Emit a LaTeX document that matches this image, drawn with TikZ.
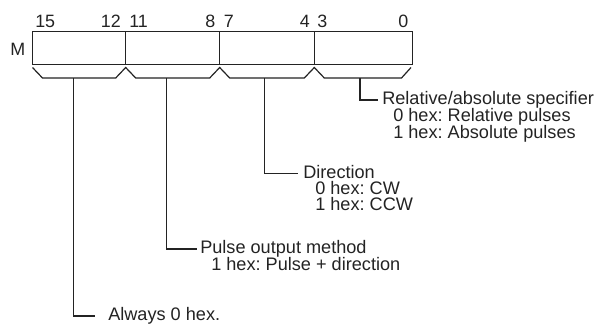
\documentclass[tikz,border=0pt]{standalone}
\usepackage{fontspec}
\setmainfont{Liberation Sans}
\frenchspacing
\definecolor{ink}{RGB}{35,35,35}
\begin{document}
\begin{tikzpicture}[x=0.75pt,y=-0.75pt,
  ln/.style={draw=ink,line width=0.9pt},
  lbl/.style={inner sep=0pt,text=ink,font=\fontsize{13.6}{15}\selectfont,text height=0.716em,text depth=0pt},
  num/.style={inner sep=0pt,text=ink,font=\fontsize{13.4}{15}\selectfont}]
\useasboundingbox (0,0) rectangle (600,326);
% register
\node[ln,minimum width=379.5*0.75pt,minimum height=33*0.75pt,anchor=north west,inner sep=0pt] (reg) at (32,31) {};
\coordinate (d1t) at (125.7,31); \coordinate (d1b) at (125.7,64);
\coordinate (d2t) at (219.7,31); \coordinate (d2b) at (219.7,64);
\coordinate (d3t) at (314.3,31); \coordinate (d3b) at (314.3,64);
\draw[ln] (d1t) -- (d1b); \draw[ln] (d2t) -- (d2b); \draw[ln] (d3t) -- (d3b);
% bit numbers
\node[num,anchor=base west] (b15) at (35,27) {15};
\node[num,anchor=base east] (b12) at (121,27) {12};
\node[num,anchor=base west] (b11) at (129,27) {11};
\node[num,anchor=base east] (b8) at (215.5,27) {8};
\node[num,anchor=base west] (b7) at (223.5,27) {7};
\node[num,anchor=base east] (b4) at (310,27) {4};
\node[num,anchor=base west] (b3) at (317,27) {3};
\node[num,anchor=base east] (b0) at (408.5,27) {0};
\node[num,anchor=base east] (m) at (25.5,55) {M};
% braces
\draw[ln,line join=miter] (32.5,67.5) -- (42.5,78) -- (115.7,78) -- (125.7,67.5) -- (135.7,78) -- (209.7,78) -- (219.7,67.5) -- (229.7,78) -- (304.3,78) -- (314.3,67.5) -- (324.3,78) -- (401.5,78) -- (411,67.5);
\coordinate (s1) at (73.3,78);
\coordinate (s2) at (166.7,78);
\coordinate (s3) at (264.3,78);
\coordinate (s4) at (360,78);
% labels
\node[lbl,anchor=west] (r1) at (382,100) {Relative/absolute specifier};
\node[lbl,anchor=west] (r2) at (393,117) {0 hex: Relative pulses};
\node[lbl,anchor=west] (r3) at (393,133.5) {1 hex: Absolute pulses};
\node[lbl,anchor=west] (d1) at (303,173.3) {Direction};
\node[lbl,anchor=west] (d2) at (315,189.5) {0 hex: CW};
\node[lbl,anchor=west] (d3) at (315,205.5) {1 hex: CCW};
\node[lbl,anchor=west] (p1) at (200,249) {Pulse output method};
\node[lbl,anchor=west] (p2) at (211,265.5) {1 hex: Pulse + direction};
\node[lbl,anchor=west] (a1) at (108,316) {Always 0 hex.};
% leaders
\draw[ln] (s4) |- ([xshift=-3pt]r1.west);
\draw[ln] (s3) |- ([xshift=-3.7pt]d1.west);
\draw[ln] (s2) |- ([xshift=-2.3pt]p1.west);
\draw[ln] (s1) |- ([xshift=-9.7pt]a1.west);
\end{tikzpicture}
\end{document}
